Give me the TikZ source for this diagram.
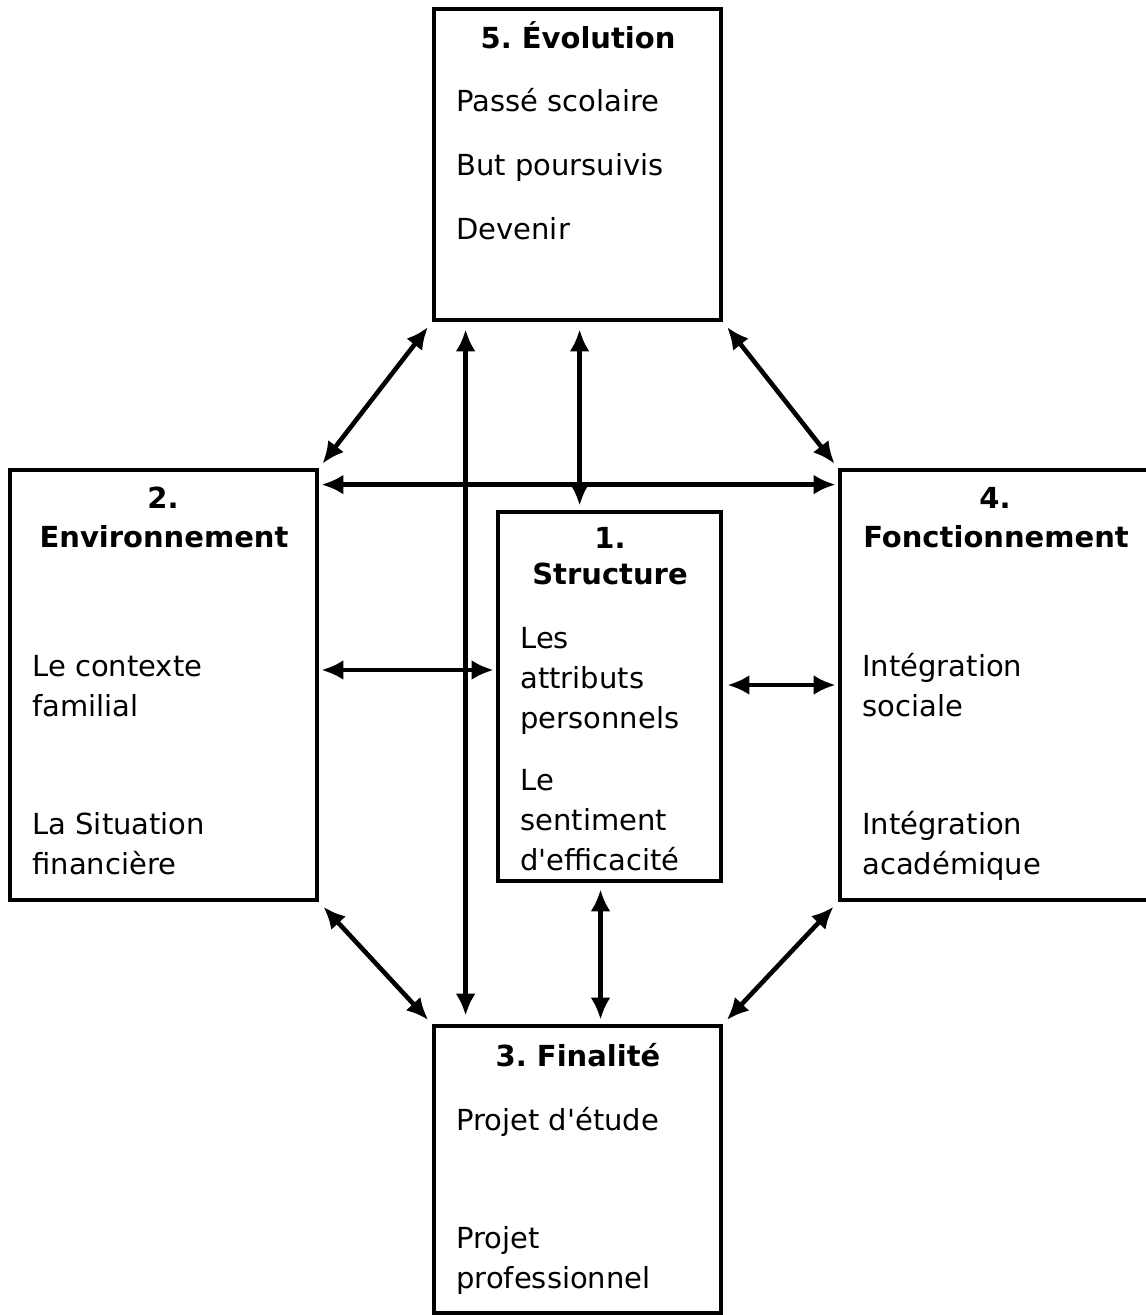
\documentclass[tikz,border=0pt]{standalone}
\usepackage{fontspec}
\setmainfont{DejaVu Sans}
\usepackage{tikz}
\usetikzlibrary{arrows.meta,fit}
\frenchspacing

\tikzset{
  box/.style={draw, line width=2.4pt, inner sep=0pt},
  title/.style={font=\fontsize{14.5}{20}\selectfont\bfseries, anchor=base, inner sep=0pt},
  txt/.style={anchor=base west, inner sep=0pt},
  arr/.style={line width=2.3pt, {Latex[length=11pt,width=10pt]}-{Latex[length=11pt,width=10pt]}},
}

\begin{document}
\begin{tikzpicture}[x=0.5pt, y=-0.5pt, font=\fontsize{14.5}{20}\selectfont]
    \useasboundingbox (0,0) rectangle (1145,1315);
    % the five boxes
    \node[box, fit={(434,9) (721,320)}] (evol) {};
    \node[box, fit={(10,470) (317,900)}] (env) {};
    \node[box, fit={(498,512) (721,881)}] (struct) {};
    \node[box, fit={(840,470) (1160,900)}] (fonct) {};
    \node[box, fit={(434,1026) (721,1313)}] (fin) {};
    % titles
    \node[title] (t5) at (578,49) {5. Évolution};
    \node[title] (t2a) at (163,508) {2.};
    \node[title] (t2b) at (164,547) {Environnement};
    \node[title] (t1a) at (610,548) {1.};
    \node[title] (t1b) at (610,584) {Structure};
    \node[title] (t4a) at (995,508) {4.};
    \node[title] (t4b) at (996,547) {Fonctionnement};
    \node[title] (t3) at (578,1066) {3. Finalité};
    % contents
    \foreach \t/\x/\y [count=\i] in {Passé scolaire/456/112, But poursuivis/456/176, Devenir/456/240,
        Le contexte/32/676, familial/32/716, La Situation/32/834, financière/32/874,
        Les/520/648, attributs/520/688, personnels/520/728, Le/520/790, sentiment/520/830, d\textquotesingle efficacité/520/870,
        Intégration/862/676, sociale/862/716, Intégration/862/834, académique/862/874,
        Projet d\textquotesingle étude/456/1130, Projet/456/1248, professionnel/456/1288}
        \node[txt] (l\i) at (\x,\y) {\t};
    % connectors
    \coordinate (a5) at ([xshift=17pt]evol.south west);
    \coordinate (a3) at ([xshift=17pt]fin.north west);
    \draw[arr, shorten <=3.5pt, shorten >=4pt] (a5) -- (a3);
    \coordinate (b5) at ([xshift=74pt]evol.south west);
    \draw[arr, shorten <=3.5pt, shorten >=2pt] (b5) -- (b5 |- struct.north);
    \coordinate (c1) at ([xshift=-4.5pt]struct.south);
    \draw[arr, shorten <=3pt, shorten >=2pt] (c1) -- (c1 |- fin.north);
    \draw[arr, shorten <=3pt, shorten >=2.5pt] (evol.south west) -- (env.north east);
    \draw[arr, shorten <=3pt, shorten >=2.5pt] (evol.south east) -- (fonct.north west);
    \draw[arr, shorten <=3pt, shorten >=2.5pt] (env.south east) -- (fin.north west);
    \draw[arr, shorten <=3pt, shorten >=2.5pt] (fonct.south west) -- (fin.north east);
    \coordinate (h2) at ([yshift=-8.5pt]env.north east);
    \draw[arr, shorten <=1pt, shorten >=1pt] (h2) -- (h2 -| fonct.west);
    \coordinate (m2) at ([yshift=7.5pt]env.east);
    \draw[arr, shorten <=1pt, shorten >=1pt] (m2) -- (m2 -| struct.west);
    \coordinate (m1) at (struct.east |- env.east);
    \draw[arr, shorten <=2pt, shorten >=1pt] (m1) -- (fonct.west);
\end{tikzpicture}
\end{document}
